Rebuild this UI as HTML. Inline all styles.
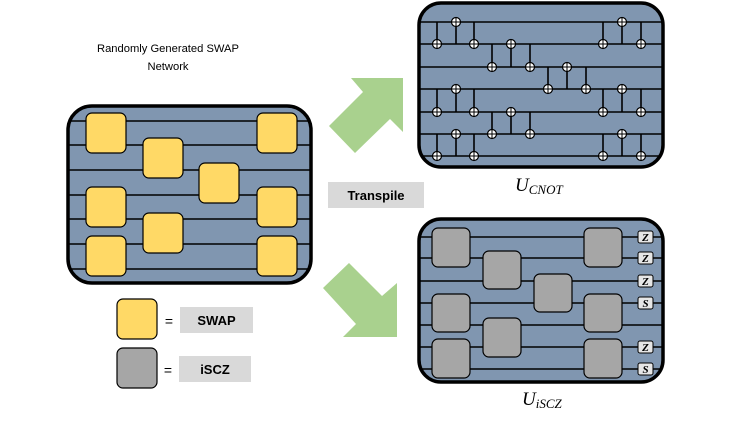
<!DOCTYPE html>
<html><head><meta charset="utf-8"><style>
html,body{margin:0;padding:0;background:#fff;}
svg{display:block;}
</style></head><body>
<svg width="747" height="421" viewBox="0 0 747 421" xmlns="http://www.w3.org/2000/svg">
<defs>
<clipPath id="cl"><rect x="68" y="106" width="243" height="177" rx="24"/></clipPath>
<clipPath id="cc"><rect x="419" y="3" width="244" height="164" rx="22"/></clipPath>
<clipPath id="ci"><rect x="419" y="219" width="244" height="163" rx="22"/></clipPath>
<g id="ox"><circle r="4.5" fill="#fff" stroke="#000" stroke-width="1.2"/><line x1="-4.5" y1="0" x2="4.5" y2="0" stroke="#000" stroke-width="1"/><line x1="0" y1="-4.5" x2="0" y2="4.5" stroke="#000" stroke-width="1"/></g>
</defs>

<text x="168" y="52" font-family="Liberation Sans, sans-serif" font-size="11.2" text-anchor="middle">Randomly Generated SWAP</text>
<text x="168" y="70" font-family="Liberation Sans, sans-serif" font-size="11.2" text-anchor="middle">Network</text>

<!-- left box -->
<rect x="68" y="106" width="243" height="177" rx="24" fill="#8096b0"/>
<g clip-path="url(#cl)" stroke="#000" stroke-width="1.6">
<line x1="60" x2="320" y1="121" y2="121"/><line x1="60" x2="320" y1="145" y2="145"/>
<line x1="60" x2="320" y1="170" y2="170"/><line x1="60" x2="320" y1="195" y2="195"/>
<line x1="60" x2="320" y1="219" y2="219"/><line x1="60" x2="320" y1="244" y2="244"/>
<line x1="60" x2="320" y1="269" y2="269"/>
</g>
<g fill="#ffd966" stroke="#000" stroke-width="1.2">
<rect x="86" y="113" width="40" height="40" rx="6"/>
<rect x="86" y="187" width="40" height="40" rx="6"/>
<rect x="86" y="236" width="40" height="40" rx="6"/>
<rect x="143" y="138" width="40" height="40" rx="6"/>
<rect x="143" y="213" width="40" height="40" rx="6"/>
<rect x="199" y="163" width="40" height="40" rx="6"/>
<rect x="257" y="113" width="40" height="40" rx="6"/>
<rect x="257" y="187" width="40" height="40" rx="6"/>
<rect x="257" y="236" width="40" height="40" rx="6"/>
</g>
<rect x="68" y="106" width="243" height="177" rx="24" fill="none" stroke="#000" stroke-width="3.5"/>

<!-- arrows -->
<polygon points="351,78 403,78 403,132 390,119 355,153 329,126 363,92" fill="#a9d18e"/>
<polygon points="349,263 382,296 397,283 397,337 343,337 356,324 323,288" fill="#a9d18e"/>

<rect x="328" y="182" width="96" height="26" fill="#d9d9d9"/>
<text x="376" y="200" font-family="Liberation Sans, sans-serif" font-size="13" font-weight="bold" text-anchor="middle">Transpile</text>

<!-- CNOT box -->
<rect x="419" y="3" width="244" height="164" rx="22" fill="#8096b0"/>
<g clip-path="url(#cc)" stroke="#000" stroke-width="1.6">
<line x1="410" x2="670" y1="22" y2="22"/><line x1="410" x2="670" y1="44" y2="44"/>
<line x1="410" x2="670" y1="67" y2="67"/><line x1="410" x2="670" y1="89" y2="89"/>
<line x1="410" x2="670" y1="112" y2="112"/><line x1="410" x2="670" y1="134" y2="134"/>
<line x1="410" x2="670" y1="156" y2="156"/>
</g>
<g stroke="#000" stroke-width="1.6">
<line x1="437" x2="437" y1="22" y2="44"/><line x1="437" x2="437" y1="89" y2="112"/><line x1="437" x2="437" y1="134" y2="156"/>
<line x1="456" x2="456" y1="22" y2="44"/><line x1="456" x2="456" y1="89" y2="112"/><line x1="456" x2="456" y1="134" y2="156"/>
<line x1="474" x2="474" y1="22" y2="44"/><line x1="474" x2="474" y1="89" y2="112"/><line x1="474" x2="474" y1="134" y2="156"/>
<line x1="603" x2="603" y1="22" y2="44"/><line x1="603" x2="603" y1="89" y2="112"/><line x1="603" x2="603" y1="134" y2="156"/>
<line x1="622" x2="622" y1="22" y2="44"/><line x1="622" x2="622" y1="89" y2="112"/><line x1="622" x2="622" y1="134" y2="156"/>
<line x1="641" x2="641" y1="22" y2="44"/><line x1="641" x2="641" y1="89" y2="112"/><line x1="641" x2="641" y1="134" y2="156"/>
<line x1="492" x2="492" y1="44" y2="67"/><line x1="492" x2="492" y1="112" y2="134"/>
<line x1="511" x2="511" y1="44" y2="67"/><line x1="511" x2="511" y1="112" y2="134"/>
<line x1="530" x2="530" y1="44" y2="67"/><line x1="530" x2="530" y1="112" y2="134"/>
<line x1="548" x2="548" y1="67" y2="89"/><line x1="567" x2="567" y1="67" y2="89"/><line x1="586" x2="586" y1="67" y2="89"/>
</g>
<use href="#ox" x="437" y="44"/><use href="#ox" x="437" y="112"/><use href="#ox" x="437" y="156"/>
<use href="#ox" x="456" y="22"/><use href="#ox" x="456" y="89"/><use href="#ox" x="456" y="134"/>
<use href="#ox" x="474" y="44"/><use href="#ox" x="474" y="112"/><use href="#ox" x="474" y="156"/>
<use href="#ox" x="603" y="44"/><use href="#ox" x="603" y="112"/><use href="#ox" x="603" y="156"/>
<use href="#ox" x="622" y="22"/><use href="#ox" x="622" y="89"/><use href="#ox" x="622" y="134"/>
<use href="#ox" x="641" y="44"/><use href="#ox" x="641" y="112"/><use href="#ox" x="641" y="156"/>
<use href="#ox" x="492" y="67"/><use href="#ox" x="492" y="134"/>
<use href="#ox" x="511" y="44"/><use href="#ox" x="511" y="112"/>
<use href="#ox" x="530" y="67"/><use href="#ox" x="530" y="134"/>
<use href="#ox" x="548" y="89"/><use href="#ox" x="567" y="67"/><use href="#ox" x="586" y="89"/>
<rect x="419" y="3" width="244" height="164" rx="22" fill="none" stroke="#000" stroke-width="3.5"/>
<text x="515" y="191" font-family="Liberation Serif, serif" font-style="italic" font-size="19">U<tspan font-size="13" dy="3">CNOT</tspan></text>

<!-- iSCZ box -->
<rect x="419" y="219" width="244" height="163" rx="22" fill="#8096b0"/>
<g clip-path="url(#ci)" stroke="#000" stroke-width="1.6">
<line x1="410" x2="670" y1="237" y2="237"/><line x1="410" x2="670" y1="258" y2="258"/>
<line x1="410" x2="670" y1="281" y2="281"/><line x1="410" x2="670" y1="303" y2="303"/>
<line x1="410" x2="670" y1="325" y2="325"/><line x1="410" x2="670" y1="347" y2="347"/>
<line x1="410" x2="670" y1="369" y2="369"/>
</g>
<g fill="#a6a6a6" stroke="#000" stroke-width="1.2">
<rect x="432" y="228" width="38" height="39" rx="6"/>
<rect x="432" y="294" width="38" height="38" rx="6"/>
<rect x="432" y="339" width="38" height="39" rx="6"/>
<rect x="483" y="251" width="38" height="38" rx="6"/>
<rect x="483" y="318" width="38" height="39" rx="6"/>
<rect x="534" y="274" width="38" height="38" rx="6"/>
<rect x="584" y="228" width="38" height="39" rx="6"/>
<rect x="584" y="294" width="38" height="38" rx="6"/>
<rect x="584" y="339" width="38" height="39" rx="6"/>
</g>
<g fill="#e6e6e6" stroke="#000" stroke-width="1">
<rect x="638" y="231" width="15" height="12" rx="2"/>
<rect x="638" y="252" width="15" height="12" rx="2"/>
<rect x="638" y="275" width="15" height="12" rx="2"/>
<rect x="638" y="297" width="15" height="12" rx="2"/>
<rect x="638" y="341" width="15" height="12" rx="2"/>
<rect x="638" y="363" width="15" height="12" rx="2"/>
</g>
<g font-family="Liberation Serif, serif" font-style="italic" font-weight="bold" font-size="11" text-anchor="middle">
<text x="645.5" y="241">Z</text><text x="645.5" y="262">Z</text><text x="645.5" y="285">Z</text>
<text x="645.5" y="307">S</text><text x="645.5" y="351">Z</text><text x="645.5" y="373">S</text>
</g>
<rect x="419" y="219" width="244" height="163" rx="22" fill="none" stroke="#000" stroke-width="3.5"/>
<text x="522" y="405" font-family="Liberation Serif, serif" font-style="italic" font-size="19">U<tspan font-size="13" dy="3">iSCZ</tspan></text>

<!-- legend -->
<rect x="117" y="299" width="40" height="40" rx="6" fill="#ffd966" stroke="#000" stroke-width="1.2"/>
<rect x="117" y="348" width="40" height="40" rx="6" fill="#a6a6a6" stroke="#000" stroke-width="1.2"/>
<text x="169" y="326" font-family="Liberation Sans, sans-serif" font-size="14" text-anchor="middle">=</text>
<text x="168" y="375" font-family="Liberation Sans, sans-serif" font-size="14" text-anchor="middle">=</text>
<rect x="180" y="307" width="73" height="26" fill="#d9d9d9"/>
<rect x="179" y="356" width="72" height="26" fill="#d9d9d9"/>
<text x="216.5" y="325" font-family="Liberation Sans, sans-serif" font-size="13" font-weight="bold" text-anchor="middle">SWAP</text>
<text x="215" y="374" font-family="Liberation Sans, sans-serif" font-size="13" font-weight="bold" text-anchor="middle">iSCZ</text>
</svg>
</body></html>
